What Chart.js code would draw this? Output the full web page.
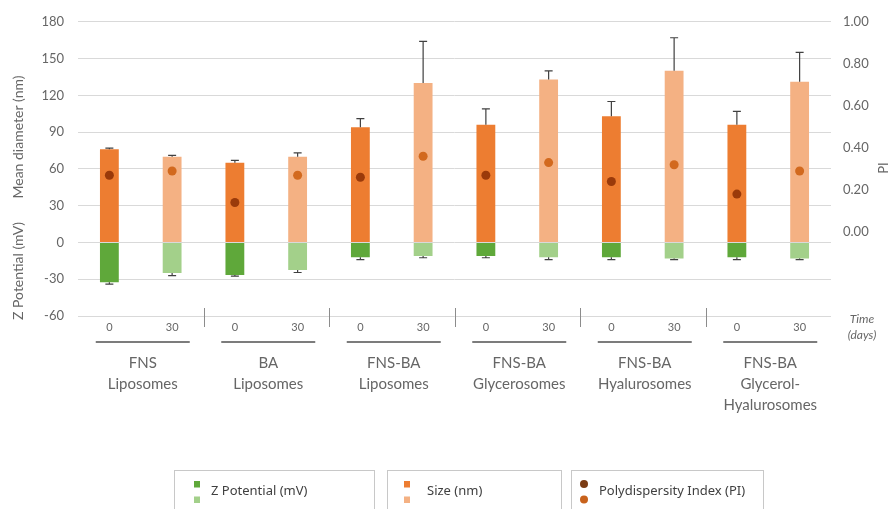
<!DOCTYPE html>
<html>
<head>
<meta charset="utf-8">
<script src="https://cdn.jsdelivr.net/npm/chart.js@4.4.1/dist/chart.umd.min.js"></script>
<style>
  html, body { margin: 0; padding: 0; background: #fff; }
  canvas { display: block; }
</style>
</head>
<body>
<canvas id="chart" width="891" height="509"></canvas>
<script>
// time points (days) per bar, and the formulation groups (two bars each)
const dayLabels = ['0', '30', '0', '30', '0', '30', '0', '30', '0', '30', '0', '30'];
const groupNames = [
    ['FNS', 'Liposomes'],
    ['BA', 'Liposomes'],
    ['FNS-BA', 'Liposomes'],
    ['FNS-BA', 'Glycerosomes'],
    ['FNS-BA', 'Hyalurosomes'],
    ['FNS-BA', 'Glycerol-', 'Hyalurosomes']
];

// mean diameter (nm) and its SD
const sizeNm = [76, 70, 65, 70, 94, 130, 96, 133, 103, 140, 96, 131];
const sizeSd = [1, 1, 2, 3, 7, 34, 13, 7, 12, 27, 11, 24];

// zeta potential (mV) and its SD
const zetaMv = [-32.5, -25, -26.5, -22.5, -12, -11, -11, -12, -12, -13, -12, -13];
const zetaSd = [1.5, 2, 1, 2, 2, 1.5, 1.5, 2, 2, 1, 2, 1];

// polydispersity index
const pdiValues = [0.27, 0.29, 0.14, 0.27, 0.26, 0.36, 0.27, 0.33, 0.24, 0.32, 0.18, 0.29];

// axis ticks
const leftTicks = { min: -60, max: 180, step: 30 };
const rightTicks = { min: -0.4, max: 1.0, step: 0.2 };

const colors = {
    size: ['#ED7D31', '#F4B183'],
    zeta: ['#5FA83A', '#A3D08A'],
    pdi: ['#9A3A0A', '#D2691E'],
    legendPdi: ['#7A3B14', '#C8621C']
};

const shade = (palette) => dayLabels.map((d) => d === '0' ? palette[0] : palette[1]);

const TEXT = '#666666';
const TICK_FONT = { family: 'Lato', size: 13 };

function errorBar(ctx, px, from, to) {
    ctx.beginPath();
    ctx.moveTo(px, from);
    ctx.lineTo(px, to);
    ctx.moveTo(px - 4, to);
    ctx.lineTo(px + 4, to);
    ctx.stroke();
}

function rotatedText(ctx, text, cx, cy, angle) {
    ctx.save();
    ctx.translate(cx, cy);
    ctx.rotate(angle);
    ctx.fillText(text, 0, 0);
    ctx.restore();
}

const decorations = {
    id: 'decorations',
    afterDatasetsDraw(chart) {
        const { ctx, scales: { x, y } } = chart;
        ctx.save();
        ctx.strokeStyle = '#404040';
        ctx.lineWidth = 1.2;
        sizeNm.forEach((v, i) => {
            errorBar(ctx, x.getPixelForValue(i), y.getPixelForValue(v), y.getPixelForValue(v + sizeSd[i]));
        });
        zetaMv.forEach((v, i) => {
            errorBar(ctx, x.getPixelForValue(i), y.getPixelForValue(v), y.getPixelForValue(v - zetaSd[i]));
        });
        ctx.restore();
    },
    afterDraw(chart) {
        const { ctx, chartArea, scales: { x } } = chart;
        const bottom = chartArea.bottom;
        ctx.save();

        // group separators
        ctx.strokeStyle = '#8C8C8C';
        ctx.lineWidth = 1;
        for (let g = 1; g < groupNames.length; g++) {
            const sx = Math.round((x.getPixelForValue(2 * g - 1) + x.getPixelForValue(2 * g)) / 2) + 0.5;
            ctx.beginPath();
            ctx.moveTo(sx, bottom - 8);
            ctx.lineTo(sx, bottom + 11);
            ctx.stroke();
        }

        // underlines and group names
        ctx.textAlign = 'center';
        ctx.textBaseline = 'middle';
        groupNames.forEach((lines, g) => {
            const cx = (x.getPixelForValue(2 * g) + x.getPixelForValue(2 * g + 1)) / 2 + 2;
            ctx.strokeStyle = '#505050';
            ctx.lineWidth = 1.5;
            ctx.beginPath();
            ctx.moveTo(cx - 47, bottom + 26);
            ctx.lineTo(cx + 47, bottom + 26);
            ctx.stroke();
            ctx.fillStyle = TEXT;
            ctx.font = '15px Lato';
            lines.forEach((line, k) => ctx.fillText(line, cx, bottom + 47 + k * 21));
        });

        // time label
        ctx.font = 'italic 12px Lato';
        ctx.fillStyle = TEXT;
        ctx.fillText('Time', 862, bottom + 3);
        ctx.fillText('(days)', 862, bottom + 19);

        // axis titles
        ctx.font = '14px Lato';
        rotatedText(ctx, 'Mean diameter (nm)', 18, 137, -Math.PI / 2);
        rotatedText(ctx, 'Z Potential (mV)', 18, 271, -Math.PI / 2);
        ctx.font = '13px Lato';
        rotatedText(ctx, 'PI', 884, 168, -Math.PI / 2);

        // legend boxes
        const legend = [
            { left: 174, width: 200, marker: 197, text: 211, label: chart.data.datasets[1].label, fills: colors.zeta, dot: false },
            { left: 387, width: 174, marker: 407, text: 427, label: chart.data.datasets[0].label, fills: colors.size, dot: false },
            { left: 571, width: 192, marker: 584, text: 599, label: chart.data.datasets[2].label, fills: colors.legendPdi, dot: true }
        ];
        ctx.textAlign = 'left';
        ctx.font = '13px "Noto Sans"';
        legend.forEach((item) => {
            ctx.strokeStyle = '#C8C8C8';
            ctx.lineWidth = 1;
            ctx.strokeRect(item.left + 0.5, 470.5, item.width, 60);
            item.fills.forEach((fill, k) => {
                const my = 484 + k * 15.5;
                ctx.fillStyle = fill;
                if (item.dot) {
                    ctx.beginPath();
                    ctx.arc(item.marker, my, 4, 0, Math.PI * 2);
                    ctx.fill();
                } else {
                    ctx.fillRect(item.marker - 3, my - 3, 6, 6.5);
                }
            });
            ctx.fillStyle = '#404040';
            ctx.fillText(item.label, item.text, 491);
        });
        ctx.restore();
    }
};

new Chart(document.getElementById('chart'), {
    type: 'bar',
    data: {
        labels: dayLabels,
        datasets: [
            {
                label: 'Size (nm)',
                data: sizeNm,
                backgroundColor: shade(colors.size),
                yAxisID: 'y',
                stack: 'formulation',
                order: 2
            },
            {
                label: 'Z Potential (mV)',
                data: zetaMv,
                backgroundColor: shade(colors.zeta),
                yAxisID: 'y',
                stack: 'formulation',
                order: 2
            },
            {
                type: 'line',
                label: 'Polydispersity Index (PI)',
                data: pdiValues,
                yAxisID: 'y1',
                showLine: false,
                pointRadius: 4.5,
                pointBorderWidth: 0,
                pointBackgroundColor: shade(colors.pdi),
                order: 0
            }
        ]
    },
    options: {
        responsive: false,
        animation: false,
        layout: { padding: { top: 18, left: 0, right: 0, bottom: 0 } },
        datasets: {
            bar: { barPercentage: 1, categoryPercentage: 0.3 }
        },
        plugins: {
            legend: { display: false },
            tooltip: { enabled: false }
        },
        scales: {
            x: {
                stacked: true,
                grid: { display: false, drawTicks: false },
                border: { display: false },
                ticks: {
                    color: TEXT,
                    font: { family: 'Lato', size: 11 },
                    padding: 5,
                    maxRotation: 0,
                    autoSkip: false
                },
                afterFit: (scale) => { scale.height = 193; }
            },
            y: {
                stacked: true,
                min: leftTicks.min,
                max: leftTicks.max,
                grid: { color: '#D9D9D9', drawTicks: false },
                border: { display: false },
                ticks: {
                    stepSize: leftTicks.step,
                    color: TEXT,
                    font: TICK_FONT,
                    padding: 14
                },
                afterFit: (scale) => { scale.width = 78; }
            },
            y1: {
                position: 'right',
                min: rightTicks.min,
                max: rightTicks.max,
                grid: { display: false, drawTicks: false },
                border: { display: false },
                ticks: {
                    stepSize: rightTicks.step,
                    color: TEXT,
                    font: TICK_FONT,
                    padding: 12,
                    callback: (v) => v < -0.01 ? '' : Math.abs(Number(v)).toFixed(2)
                },
                afterFit: (scale) => { scale.width = 60; }
            }
        }
    },
    plugins: [decorations]
});
</script>
</body>
</html>
